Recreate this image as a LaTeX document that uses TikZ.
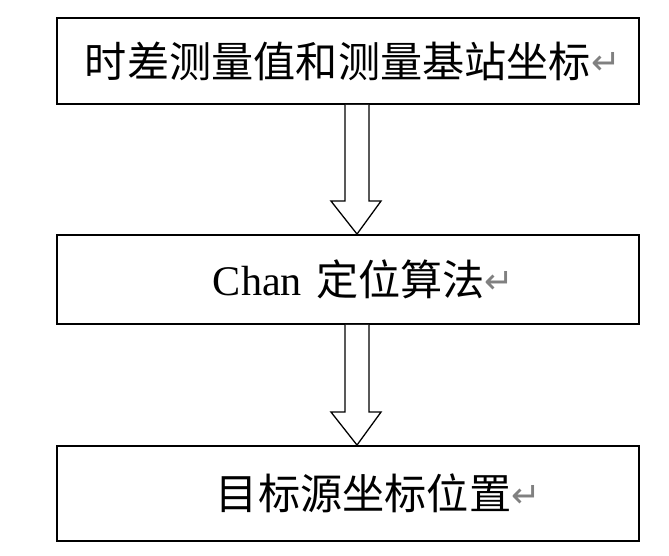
\documentclass[tikz,border=0pt]{standalone}
\usepackage{fontspec}
\usepackage{xcolor}
\setmainfont{Liberation Serif}
\newfontfamily\cjk{Noto Sans CJK SC}
\newfontfamily\symfont{DejaVu Sans}
\usetikzlibrary{calc,
	positioning}
\tikzstyle{bx}=[draw, line width=1.6pt, inner xsep=0, inner ysep=0,
		minimum width=17.46cm, text width=17.46cm, align=left,
		font=\fontsize{36}{40}\selectfont]
\tikzstyle{blk}=[draw, line width=1.1pt, fill=white, line join=miter]
\newcommand{\rmark}{{\symfont\color{gray}\fontsize{30}{30}\selectfont\raisebox{2pt}{↵}}}
% hollow block arrow from #1 (south) to #2 (north)
\newcommand{\blkarrow}[2]{
	\draw[blk] ($(#1.south)+(-3,0)$) -- ($(#2.north)+(-3,-33)$)
		-- ($(#2.north)+(-17,-33)$) -- ($(#2.north)+(9,0)$)
		-- ($(#2.north)+(33,-33)$) -- ($(#2.north)+(21,-33)$)
		-- ($(#1.south)+(21,0)$);
}

\begin{document}
\begin{tikzpicture}[x=0.03cm, y=-0.03cm]
	\useasboundingbox (0,0) rectangle (669,555);
	\node[bx, minimum height=2.58cm] (meas) at (348,61)
		{\hspace*{0.84cm}\cjk 时差测量值和测量基站坐标\rmark};
	\node[bx, minimum height=2.67cm] (chan) at (348,279.5)
		{\hspace*{4.68cm}Chan {\cjk 定位算法}\rmark};
	\node[bx, minimum height=2.85cm] (pos) at (348,493.5)
		{\hspace*{4.77cm}\cjk 目标源坐标位置\rmark};
	\blkarrow{meas}{chan}
	\blkarrow{chan}{pos}
\end{tikzpicture}
\end{document}
